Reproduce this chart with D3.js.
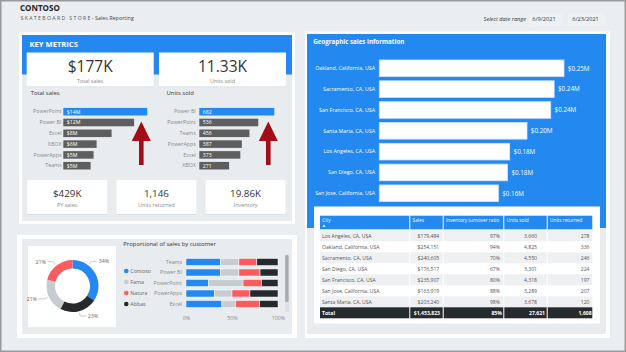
<!DOCTYPE html>
<html><head><meta charset="utf-8">
<script src="https://cdn.jsdelivr.net/npm/d3@7"></script>
<style>body{margin:0;background:#eaeef1;} svg{display:block;font-family:"Open Sans","Noto Sans",sans-serif;}</style>
</head><body><script>
// ---------- DATA ----------
const salesProducts = ['PowerPoint','Power BI','Excel','XBOX','PowerApps','Teams'];
const salesValues = [14.0, 11.8, 8.05, 5.55, 5.05, 4.55];           // $M
const unitsProducts = ['Power BI','PowerPoint','Teams','PowerApps','Excel','XBOX'];
const unitsValues = [682, 536, 456, 387, 373, 271];
const kpiTop = [{v:'$177K', l:'Total sales'}, {v:'11.33K', l:'Units sold'}];
const kpiBottom = [{v:'$429K', l:'PY sales'}, {v:'1,146', l:'Units returned'}, {v:'19.86K', l:'Inventory'}];

const geoCities = ['Oakland, California, USA','Sacramento, CA, USA','San Francisco, CA, USA','Santa Maria, CA, USA','Los Angeles, CA, USA','San Diego, CA, USA','San Jose, California, USA'];
const geoSales = [254151, 240605, 235907, 203240, 179484, 176517, 163919];

const tableHeaders = ['City','Sales','Inventory turnover ratio','Units sold','Units returned'];
const tableCities = ['Los Angeles, CA, USA','Oakland, California, USA','Sacramento, CA, USA','San Diego, CA, USA','San Francisco, CA, USA','San Jose, California, USA','Santa Maria, CA, USA'];
const tableSales = [179484, 254151, 240605, 176517, 235907, 163919, 203240];
const tableTurnover = [97, 94, 70, 67, 80, 88, 98];
const tableUnits = [3660, 4825, 4550, 3301, 4318, 3289, 3678];
const tableReturned = [278, 336, 246, 224, 197, 207, 120];
const tableTotal = ['Total', 1453823, 85, 27621, 1608];

const customers = ['Contoso','Fama','Natura','Abbas'];
const customerShare = [34, 21, 21, 23];
const stackProducts = ['Teams','Power BI','PowerPoint','PowerApps','Excel'];
const stackContoso = [37.5, 37.5, 24.5, 31, 39];
const stackFama    = [20, 20, 37.5, 19, 15];
const stackNatura  = [19.5, 23, 20, 19.5, 26];
const stackAbbas   = [23, 19.5, 18, 30.5, 20];
const pctTicks = [0, 50, 100];

// ---------- STYLE ----------
const BLUE = '#2388f0', BARGRAY = '#5e5e5e', PANEL = '#e8ecef', BG = '#eaeef1', RED = '#a30d18';
const custColors = ['#2388f0','#c5ccd2','#fd5c5e','#252a2c'];

const svg = d3.select('body').append('svg').attr('width', 626).attr('height', 352);
svg.append('rect').attr('width', 626).attr('height', 352).attr('fill', BG);
svg.append('rect').attr('x', 0.75).attr('y', 0.75).attr('width', 624.5).attr('height', 350.5)
  .attr('fill', 'none').attr('stroke', '#9a9a9a').attr('stroke-width', 1.5);

function txt(g, x, y, s, size, fill, opts = {}) {
  const t = g.append('text').attr('x', x).attr('y', y).attr('font-size', size).attr('fill', fill).text(s);
  if (opts.anchor) t.attr('text-anchor', opts.anchor);
  if (opts.weight) t.attr('font-weight', opts.weight);
  if (opts.style) t.attr('font-style', opts.style);
  return t;
}

// ---------- HEADER ----------
txt(svg, 20, 10.5, 'CONTOSO', 8, '#222', {weight: 700});
txt(svg, 20.5, 19.5, 'SKATEBOARD STORE', 5.2, '#555').attr('textLength', 70).attr('lengthAdjust', 'spacing');
txt(svg, 91.8, 19.5, '- Sales Reporting', 5.4, '#444');
txt(svg, 526, 20.5, 'Select date range', 5.6, '#333', {anchor: 'end', style: 'italic'});
svg.append('rect').attr('x', 529).attr('y', 13.5).attr('width', 33).attr('height', 12).attr('fill', '#eef1f3');
svg.append('rect').attr('x', 568).attr('y', 13.5).attr('width', 37).attr('height', 12).attr('fill', '#eef1f3');
txt(svg, 532.3, 21, '6/9/2021', 5.6, '#333');
txt(svg, 572.3, 21, '6/23/2021', 5.6, '#333');

// ---------- LEFT TOP CARD ----------
svg.append('rect').attr('x', 19).attr('y', 32).attr('width', 276).attr('height', 192).attr('fill', '#fff');
svg.append('rect').attr('x', 22).attr('y', 35).attr('width', 270).attr('height', 186).attr('fill', PANEL);
svg.append('rect').attr('x', 22).attr('y', 35).attr('width', 270).attr('height', 39.5).attr('fill', BLUE);
txt(svg, 29.5, 46.8, 'KEY METRICS', 7.6, '#fff', {weight: 700});

function kpiCard(x, y, w, h, d, vSize, vDy, lDy) {
  svg.append('rect').attr('x', x).attr('y', y + h - 1).attr('width', w).attr('height', 1.2).attr('fill', '#d3d9de');
  svg.append('rect').attr('x', x).attr('y', y).attr('width', w).attr('height', h - 0.5).attr('fill', '#fff');
  txt(svg, x + w / 2, y + vDy, d.v, vSize, '#333', {anchor: 'middle'});
  txt(svg, x + w / 2, y + lDy, d.l, 5.4, '#8a8a8a', {anchor: 'middle'});
}
const kpiTopX = d3.scaleBand().domain(d3.range(kpiTop.length)).range([26.7, 286]).paddingInner(0.04);
kpiTop.forEach((d, i) => kpiCard(kpiTopX(i), 52.5, kpiTopX.bandwidth(), 34.5, d, 15.5, 19.2, 30.8));
const kpiBotX = d3.scaleBand().domain(d3.range(kpiBottom.length)).range([27.3, 285.5]).paddingInner(0.105);
kpiBottom.forEach((d, i) => kpiCard(kpiBotX(i), 180, kpiBotX.bandwidth(), 34.5, d, 9.8, 16.6, 27.3));

txt(svg, 30.7, 95, 'Total sales', 5.9, '#333');
txt(svg, 166.5, 95, 'Units sold', 5.9, '#333');

function hbar(cats, vals, x0, labelX, maxW, fmt) {
  const y = d3.scaleBand().domain(cats).range([106.3, 171.1]).paddingInner(0.3).paddingOuter(0.15);
  const x = d3.scaleLinear().domain([0, d3.max(vals)]).range([0, maxW]);
  const g = svg.append('g');
  g.selectAll('rect').data(cats).join('rect')
    .attr('x', x0).attr('y', d => y(d)).attr('height', y.bandwidth())
    .attr('width', (d, i) => x(vals[i])).attr('fill', (d, i) => i === 0 ? BLUE : BARGRAY);
  g.selectAll('text.v').data(cats).join('text').attr('class', 'v')
    .attr('x', x0 + 3.5).attr('y', d => y(d) + y.bandwidth() / 2 + 1.9)
    .attr('font-size', 5.2).attr('fill', '#fff').text((d, i) => fmt(vals[i]));
  const ax = svg.append('g').attr('transform', `translate(${x0},0)`)
    .call(d3.axisLeft(y).tickSize(0).tickPadding(x0 - labelX));
  ax.select('.domain').remove();
  ax.selectAll('text').attr('font-size', 5.3).attr('fill', '#8a8a8a').attr('font-family', 'Open Sans, sans-serif');
  // red annotation arrow near the top bar end
  const cx = x0 + x(vals[0]) - 6, tip = y(cats[0]) + y.bandwidth() + 6;
  const hw = 9.5, sw = 2.3, hb = tip + 19.5, end = tip + 43.5;
  svg.append('path').attr('fill', RED)
    .attr('d', `M${cx},${tip} L${cx + hw},${hb} L${cx + sw},${hb} L${cx + sw},${end} L${cx - sw},${end} L${cx - sw},${hb} L${cx - hw},${hb} Z`);
}
hbar(salesProducts, salesValues, 63.3, 61.5, 84, v => '$' + Math.round(v) + 'M');
hbar(unitsProducts, unitsValues, 199.3, 195.8, 75, v => String(v));

// ---------- LEFT BOTTOM CARD ----------
svg.append('rect').attr('x', 17).attr('y', 235).attr('width', 280).attr('height', 103).attr('fill', '#fff');
svg.append('rect').attr('x', 22).attr('y', 239).attr('width', 270).attr('height', 95).attr('fill', PANEL);
svg.append('rect').attr('x', 28).attr('y', 246).attr('width', 88).attr('height', 81).attr('fill', '#fff');

// donut
const cxD = 72.5, cyD = 286;
const pie = d3.pie().sort((a, b) => b.v - a.v).value(d => d.v);
const arcs = pie(customers.map((c, i) => ({c, v: customerShare[i], col: custColors[i]})));
const arc = d3.arc().innerRadius(17.5).outerRadius(26);
const dg = svg.append('g').attr('transform', `translate(${cxD},${cyD})`);
dg.selectAll('path').data(arcs).join('path').attr('d', arc).attr('fill', d => d.data.col);
arcs.forEach(a => {
  // label anchor: a point inside the slice, biased toward its start (Power BI style placement)
  const m = a.startAngle + (a.endAngle - a.startAngle) * (a.index === 0 ? 0.3 : 0.5);
  const p1 = [Math.sin(m) * 27.5, -Math.cos(m) * 27.5];
  const p2 = [Math.sin(m) * 31, -Math.cos(m) * 31];
  const side = Math.sin(m) >= 0 ? 1 : -1;
  const p3 = [p2[0] + side * 6, p2[1]];
  dg.append('polyline').attr('points', [p1, p2, p3].map(p => p.join(',')).join(' '))
    .attr('fill', 'none').attr('stroke', '#aaa').attr('stroke-width', 0.6);
  txt(dg, p3[0] + side * 1.5, p3[1] + 2, a.data.v + '%', 5.3, '#666', {anchor: side > 0 ? 'start' : 'end'});
});

txt(svg, 123.3, 246, 'Proportional of sales by customer', 5.9, '#333');
const legY = d3.scalePoint().domain(customers).range([271, 304]);
customers.forEach((c, i) => {
  svg.append('circle').attr('cx', 126.3).attr('cy', legY(c)).attr('r', 2.3).attr('fill', custColors[i]);
  txt(svg, 130.3, legY(c) + 1.9, c, 5.3, '#666');
});

// stacked 100% bars
const stackRows = stackProducts.map((p, i) => ({p, Contoso: stackContoso[i], Fama: stackFama[i], Natura: stackNatura[i], Abbas: stackAbbas[i]}));
const series = d3.stack().keys(customers)(stackRows);
const sx = d3.scaleLinear().domain([0, 100]).range([186, 278]);
const sy = d3.scaleBand().domain(stackProducts).range([256.75, 309.25]).paddingInner(0.33).paddingOuter(0.165);
const sg = svg.append('g');
series.forEach((s, k) => {
  sg.append('g').selectAll('rect').data(s).join('rect')
    .attr('x', d => sx(d[0])).attr('width', d => sx(d[1]) - sx(d[0]))
    .attr('y', d => sy(d.data.p)).attr('height', sy.bandwidth())
    .attr('fill', custColors[k]).attr('stroke', '#fff').attr('stroke-width', 0.5);
});
const sxa = svg.append('g').attr('transform', 'translate(0,313.5)')
  .call(d3.axisBottom(sx).tickValues(pctTicks).tickFormat(d => d + '%').tickSize(0).tickPadding(3));
sxa.select('.domain').remove();
sxa.selectAll('text').attr('font-size', 5.3).attr('fill', '#8a8a8a').attr('font-family', 'Open Sans, sans-serif');
const sya = svg.append('g').attr('transform', 'translate(186,0)')
  .call(d3.axisLeft(sy).tickSize(0).tickPadding(4));
sya.select('.domain').remove();
sya.selectAll('text').attr('font-size', 5.3).attr('fill', '#8a8a8a').attr('font-family', 'Open Sans, sans-serif');
// scrollbar
svg.append('rect').attr('x', 285).attr('y', 254).attr('width', 4).attr('height', 58).attr('rx', 1.5).attr('fill', '#dde1e5');
svg.append('rect').attr('x', 285.2).attr('y', 255).attr('width', 3.4).attr('height', 47).attr('rx', 1.5).attr('fill', '#a9a9a9');

// ---------- RIGHT CARD ----------
svg.append('rect').attr('x', 305).attr('y', 31.5).attr('width', 305).attr('height', 306.5).attr('fill', '#fff');
svg.append('rect').attr('x', 307).attr('y', 34).attr('width', 299).attr('height', 300).attr('fill', PANEL);
svg.append('rect').attr('x', 307).attr('y', 34).attr('width', 299).attr('height', 194).attr('fill', BLUE);
txt(svg, 313.3, 43.5, 'Geographic sales information', 6.2, '#fff', {weight: 700});

const gy = d3.scaleBand().domain(geoCities).range([57.9, 203.7]).paddingInner(0.2).paddingOuter(0.1);
const gx = d3.scaleLinear().domain([0, d3.max(geoSales)]).range([0, 184.7]);
const gg = svg.append('g');
gg.selectAll('rect').data(geoCities).join('rect')
  .attr('x', 379.3).attr('y', d => gy(d)).attr('height', gy.bandwidth())
  .attr('width', (d, i) => gx(geoSales[i])).attr('fill', '#fff').attr('stroke', '#cfe2f8').attr('stroke-width', 0.8);
gg.selectAll('text').data(geoCities).join('text')
  .attr('x', (d, i) => 379.3 + gx(geoSales[i]) + 3.8).attr('y', d => gy(d) + gy.bandwidth() / 2 + 2.3)
  .attr('font-size', 6.3).attr('fill', '#fff').text((d, i) => '$' + (geoSales[i] / 1e6).toFixed(2) + 'M');
const gya = svg.append('g').attr('transform', 'translate(379.3,0)')
  .call(d3.axisLeft(gy).tickSize(0).tickPadding(4.3));
gya.select('.domain').remove();
gya.selectAll('text').attr('font-size', 5.3).attr('fill', '#fff').attr('font-family', 'Open Sans, sans-serif');

// table
svg.append('rect').attr('x', 314).attr('y', 206.5).attr('width', 286).attr('height', 117).attr('fill', '#fff');
const colEdges = [320, 410.3, 443.7, 504.3, 547.7, 593.3];
const rowY = d3.scaleBand().domain(d3.range(tableCities.length + 1)).range([230.3, 318.3]);
const tg = svg.append('g');
tableHeaders.forEach((h, c) => {
  tg.append('rect').attr('x', colEdges[c]).attr('y', 215.7).attr('width', colEdges[c + 1] - colEdges[c] - 1)
    .attr('height', 13.6).attr('fill', BLUE);
  txt(tg, colEdges[c] + 2.3, 221.8, h, 4.75, '#fff');
});
tg.append('path').attr('d', 'M322.3,226.8 L324,224.6 L325.7,226.8 Z').attr('fill', '#fff');
const dataRight = [439.3, 500, 537, 589.5];
const totalRight = [440, 501.8, 545, 591.7];
const fmtInt = d3.format(',');
tableCities.forEach((city, r) => {
  const y0 = rowY(r), h = rowY.bandwidth();
  if (r % 2 === 0) {
    colEdges.slice(0, -1).forEach((e, c) => tg.append('rect').attr('x', e).attr('y', y0)
      .attr('width', colEdges[c + 1] - e - 1).attr('height', h).attr('fill', '#eef0f2'));
  }
  const vals = ['$' + fmtInt(tableSales[r]), tableTurnover[r] + '%', fmtInt(tableUnits[r]), fmtInt(tableReturned[r])];
  txt(tg, 322, y0 + h / 2 + 2, city, 5.1, '#555');
  vals.forEach((v, c) => txt(tg, dataRight[c], y0 + h / 2 + 2, v, 5.1, '#555', {anchor: 'end'}));
});
{
  const r = tableCities.length, y0 = rowY(r), h = rowY.bandwidth();
  colEdges.slice(0, -1).forEach((e, c) => tg.append('rect').attr('x', e).attr('y', y0)
    .attr('width', colEdges[c + 1] - e - 1).attr('height', h).attr('fill', '#262c2e'));
  txt(tg, 322, y0 + h / 2 + 2, tableTotal[0], 5.1, '#fff', {weight: 700});
  const tv = ['$' + fmtInt(tableTotal[1]), tableTotal[2] + '%', fmtInt(tableTotal[3]), fmtInt(tableTotal[4])];
  tv.forEach((v, c) => txt(tg, totalRight[c], y0 + h / 2 + 2, v, 5.1, '#fff', {anchor: 'end', weight: 700}));
}
</script></body></html>
